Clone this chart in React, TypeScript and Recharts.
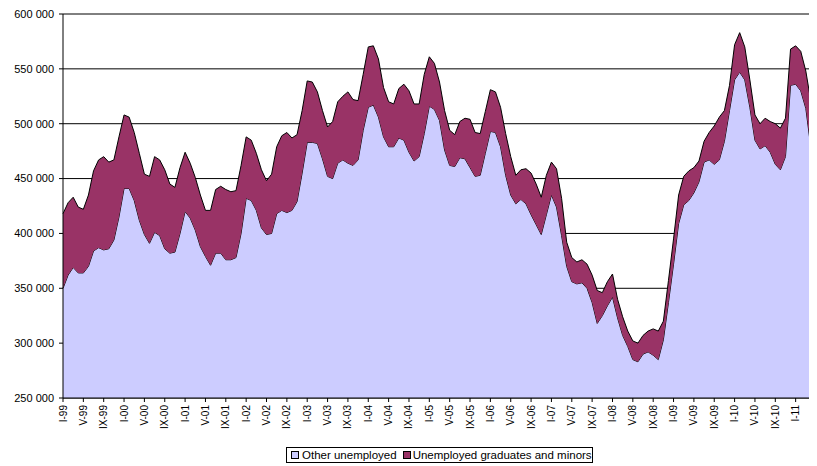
import { AreaChart, Area, XAxis, YAxis, CartesianGrid, Legend } from "recharts"

const romanMonths = ["I", "II", "III", "IV", "V", "VI", "VII", "VIII", "IX", "X", "XI", "XII"]
const years = ["99", "00", "01", "02", "03", "04", "05", "06", "07", "08", "09", "10", "11"]
// monthly categories, I-99 .. V-11
const months = years.flatMap((y) => romanMonths.map((m) => `${m}-${y}`)).slice(0, 149)

// values in thousands
const otherUnemployed = [
  350, 362, 369, 364, 364, 370, 384, 387, 385, 386,
  394, 415, 441, 441, 430, 412, 399, 391, 401, 398,
  386, 382, 383, 400, 420, 414, 403, 388, 379, 371,
  382, 382, 376, 376, 378, 400, 432, 430, 421, 405,
  399, 400, 418, 421, 419, 421, 429, 455, 483, 483,
  482, 468, 452, 450, 464, 467, 464, 462, 467, 494,
  515, 517, 506, 488, 479, 479, 487, 485, 474, 466,
  470, 491, 516, 513, 503, 476, 462, 461, 469, 468,
  460, 452, 453, 473, 493, 492, 479, 453, 435, 427,
  431, 427, 417, 408, 399, 417, 435, 424,
  398, 370, 356, 354, 355, 350, 337, 318, 325, 334, 342, 323,
  307, 297, 285, 283, 290, 292, 289, 285, 303, 337, 372, 409, 426,
  430, 437, 447, 465, 467, 463, 467, 484, 512,
  540, 547, 540, 515, 485, 477, 480, 474, 463, 458, 470, 535, 536, 530, 514, 478, 464,
]

const graduatesAndMinors = [
  68, 66, 64, 60, 58, 65, 73, 80, 85, 79,
  73, 73, 67, 65, 62, 61, 55, 61, 69, 69,
  72, 63, 59, 60, 54, 50, 48, 47, 42, 50,
  58, 61, 64, 62, 61, 62, 56, 55, 52, 53,
  49, 54, 61, 68, 73, 66, 61, 57, 56, 55,
  47, 44, 45, 52, 56, 58, 65, 60, 54, 51,
  55, 54, 53, 45, 41, 39, 45, 51, 56, 52,
  48, 54, 45, 42, 35, 36, 32, 29, 33, 37,
  44, 40, 38, 38, 38, 37, 36, 38, 35, 26,
  27, 32, 38, 37, 34, 36, 30, 35,
  34, 22, 22, 20, 21, 22, 25, 30, 21, 22, 21, 17,
  17, 14, 17, 17, 17, 19, 24, 26, 17, 20, 23, 26, 26,
  27, 23, 19, 19, 25, 35, 39, 28, 23,
  32, 36, 30, 25, 23, 23, 25, 28, 37, 38, 35, 33, 35, 36, 34, 42, 31,
]

const yTicks = [250, 300, 350, 400, 450, 500, 550, 600]

const data = months.map((month, i) => ({
  month,
  other: otherUnemployed[i],
  graduates: graduatesAndMinors[i],
}))

const font = '"Liberation Sans", Arial, sans-serif'

function XTick(props: any) {
  const { x, y, payload } = props
  return (
    <g transform={`translate(${x},${y})`}>
      <text transform="rotate(-90)" x={0} y={0} dy={3.5} textAnchor="end" fontSize={10} fontFamily={font} fill="#000">
        {payload.value}
      </text>
    </g>
  )
}

function LegendBox() {
  const swatch = (color: string) => (
    <span style={{ display: "inline-block", width: 6, height: 6, border: "1px solid #000", background: color }} />
  )
  return (
    <div style={{ height: 19 }}>
      <div
        style={{
          marginLeft: 278,
          width: 305,
          height: 14,
          border: "1px solid #000",
          display: "flex",
          alignItems: "center",
          fontFamily: font,
          fontSize: 11.5,
          color: "#000",
          whiteSpace: "nowrap",
          boxSizing: "content-box",
        }}
      >
        <span style={{ marginLeft: 4, display: "flex" }}>{swatch("#CCCCFF")}</span>
        <span style={{ marginLeft: 3 }}>Other unemployed</span>
        <span style={{ marginLeft: 6, display: "flex" }}>{swatch("#993366")}</span>
        <span style={{ marginLeft: 2 }}>Unemployed graduates and minors</span>
      </div>
    </div>
  )
}

export default function App() {
  return (
    <AreaChart width={809} height={458} data={data} margin={{ top: 6, right: 1, left: 0, bottom: 0 }}>
      <CartesianGrid vertical={false} stroke="#000" strokeWidth={1} />
      <XAxis
        dataKey="month"
        interval={3}
        tick={<XTick />}
        tickSize={4}
        tickMargin={3}
        height={49}
        axisLine={{ stroke: "#000" }}
        tickLine={{ stroke: "#000" }}
      />
      <YAxis
        domain={[250, 600]}
        ticks={yTicks}
        tickFormatter={(v) => `${v} 000`}
        width={55}
        tickSize={4}
        tickMargin={5}
        axisLine={{ stroke: "#000" }}
        tickLine={{ stroke: "#000" }}
        tick={{ fontSize: 11, fontFamily: font, fill: "#000" }}
        allowDataOverflow
      />
      <Area
        type="linear"
        dataKey="other"
        name="Other unemployed"
        stackId="1"
        stroke="#000"
        strokeWidth={1}
        fill="#CCCCFF"
        fillOpacity={1}
        isAnimationActive={false}
      />
      <Area
        type="linear"
        dataKey="graduates"
        name="Unemployed graduates and minors"
        stackId="1"
        stroke="#000"
        strokeWidth={1}
        fill="#993366"
        fillOpacity={1}
        isAnimationActive={false}
      />
      <Legend verticalAlign="bottom" align="left" content={<LegendBox />} />
    </AreaChart>
  )
}
